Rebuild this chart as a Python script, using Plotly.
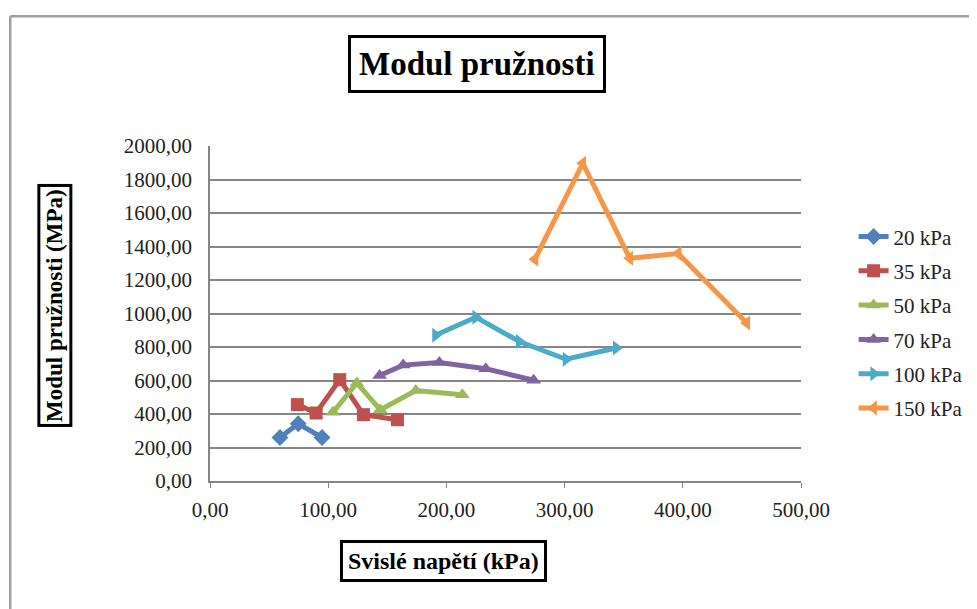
import plotly.graph_objects as go

# values
names = ["20 kPa", "35 kPa", "50 kPa", "70 kPa", "100 kPa", "150 kPa"]
x_20 = [59.2, 74.6, 94.8]
y_20 = [260, 342, 260]
x_35 = [73.9, 89.8, 109.8, 129.8, 158.6]
y_35 = [456, 406, 605, 396, 366]
x_50 = [104.0, 124.3, 144.1, 174.1, 213.5]
y_50 = [410, 585, 425, 540, 515]
x_70 = [143.5, 163.4, 194.0, 233.3, 273.8]
y_70 = [630, 692, 708, 670, 602]
x_100 = [190.8, 224.8, 261.6, 301.2, 343.7]
y_100 = [870, 978, 833, 727, 794]
x_150 = [274.9, 315.4, 355.1, 396.1, 454.1]
y_150 = [1324, 1897, 1330, 1358, 943]

xs = [x_20, x_35, x_50, x_70, x_100, x_150]
ys = [y_20, y_35, y_50, y_70, y_100, y_150]
colors = ["#4F81BD", "#C0504D", "#9BBB59", "#8064A2", "#4BACC6", "#F79646"]
symbols = ["diamond", "square", "triangle-up", "triangle-up", "triangle-right", "triangle-left"]

FONT = "Liberation Serif"

fig = go.Figure()
for name, x, y, c, s in zip(names, xs, ys, colors, symbols):
    fig.add_trace(go.Scatter(
        x=x, y=y, name=name, mode="lines+markers", legendgroup=name,
        line=dict(color=c, width=5),
        marker=dict(symbol=s, size=13, color=c),
    ))

# the page body adds 8px of margin, so the margins here are 8px smaller
fig.update_layout(
    width=977, height=609,
    margin=dict(l=202, r=184, t=138, b=136),
    paper_bgcolor="white", plot_bgcolor="white",
    separators=",.",
    font=dict(family=FONT, size=21, color="#222222"),
    legend=dict(x=1.089, y=0.79, xanchor="left", yanchor="top",
                font=dict(family=FONT, size=21, color="#222222"), tracegroupgap=4,
                itemwidth=30, bgcolor="rgba(0,0,0,0)"),
    annotations=[
        dict(text="<b>Modul pružnosti</b>", xref="paper", yref="paper",
             x=0.451, y=1.245, xanchor="center", yanchor="middle", showarrow=False,
             font=dict(size=33, color="black", family=FONT),
             bordercolor="black", borderwidth=3, borderpad=8, bgcolor="white"),
        dict(text="<b>Modul pružnosti (MPa)</b>", xref="paper", yref="paper",
             x=-0.262, y=0.523, xanchor="center", yanchor="middle",
             showarrow=False, textangle=-90,
             font=dict(size=23, color="black", family=FONT),
             bordercolor="black", borderwidth=3, borderpad=2, bgcolor="white"),
        dict(text="<b>Svislé napětí (kPa)</b>", xref="paper", yref="paper",
             x=0.395, y=-0.240, xanchor="center", yanchor="middle", showarrow=False,
             font=dict(size=24, color="black", family=FONT),
             bordercolor="black", borderwidth=3, borderpad=5, bgcolor="white"),
    ],
    shapes=[
        # grey chart-area outline (top and left edges)
        dict(type="line", xref="paper", yref="paper",
             x0=-0.338, x1=1.40, y0=1.387, y1=1.387,
             line=dict(color="#a0a0a0", width=2.5), layer="above"),
        dict(type="line", xref="paper", yref="paper",
             x0=-0.338, x1=-0.338, y0=-0.45, y1=1.387,
             line=dict(color="#a0a0a0", width=2.5), layer="above"),
    ],
)

fig.update_xaxes(range=[0, 500], dtick=100, tickformat=".2f",
                 showgrid=False, showline=True, linecolor="#868686", linewidth=1.5,
                 ticks="outside", tickcolor="#868686", ticklen=5, zeroline=False,
                 ticklabelstandoff=4)
fig.update_yaxes(range=[0, 2000], dtick=200, tickformat=".2f",
                 showgrid=True, gridcolor="#868686", gridwidth=1.5,
                 showline=True, linecolor="#868686", linewidth=1.5,
                 ticks="", zeroline=False, ticklabelstandoff=12)

fig.write_html("out.html")
